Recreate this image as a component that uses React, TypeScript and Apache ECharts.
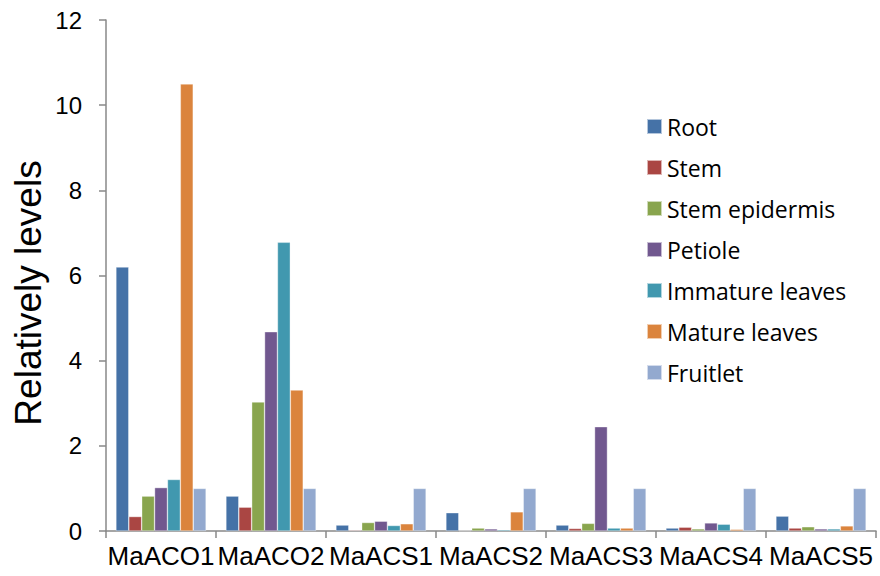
import React, { useEffect, useRef } from "react";
import * as echarts from "echarts";

const categories = ["MaACO1", "MaACO2", "MaACS1", "MaACS2", "MaACS3", "MaACS4", "MaACS5"];
const seriesNames = ["Root", "Stem", "Stem epidermis", "Petiole", "Immature leaves", "Mature leaves", "Fruitlet"];
const root = [6.2, 0.82, 0.14, 0.43, 0.14, 0.07, 0.35];
const stem = [0.34, 0.56, 0.02, 0.01, 0.06, 0.09, 0.07];
const stemEpidermis = [0.82, 3.03, 0.2, 0.07, 0.18, 0.05, 0.1];
const petiole = [1.02, 4.68, 0.23, 0.05, 2.45, 0.19, 0.05];
const immatureLeaves = [1.21, 6.78, 0.13, 0.03, 0.07, 0.16, 0.05];
const matureLeaves = [10.5, 3.31, 0.17, 0.45, 0.07, 0.04, 0.12];
const fruitlet = [1, 1, 1, 1, 1, 1, 1];
const yTicks = [0, 2, 4, 6, 8, 10, 12];

const colors = ["#4572A7", "#AA4643", "#89A54E", "#71588F", "#4198AF", "#DB843D", "#93A9CF"];

export default function App() {
  const ref = useRef<HTMLDivElement>(null);
  useEffect(() => {
    if (!ref.current) return;
    const chart = echarts.init(ref.current, null, { renderer: "svg" });
    const values = [root, stem, stemEpidermis, petiole, immatureLeaves, matureLeaves, fruitlet];
    chart.setOption({
      animation: false,
      color: colors,
      grid: { left: 106, right: 4, top: 20, bottom: 45 },
      legend: {
        orient: "vertical",
        left: 641,
        top: 110,
        itemWidth: 15,
        itemHeight: 15,
        itemGap: 18,
        icon: "rect",
        textStyle: { fontFamily: "Open Sans", fontSize: 23, color: "#000" },
        data: seriesNames,
      },
      xAxis: {
        type: "category",
        data: categories,
        axisLine: { lineStyle: { color: "#888", width: 1.5 } },
        axisTick: { show: true, length: 7, lineStyle: { color: "#888", width: 1.5 } },
        axisLabel: { color: "#000", fontFamily: "Liberation Sans", fontSize: 26, margin: 12, interval: 0 },
      },
      yAxis: {
        type: "value",
        min: yTicks[0],
        max: yTicks[yTicks.length - 1],
        interval: 2,
        splitLine: { show: false },
        axisLine: { show: true, lineStyle: { color: "#888", width: 1.5 } },
        axisTick: { show: true, length: 7, lineStyle: { color: "#888", width: 1.5 } },
        axisLabel: { color: "#000", fontFamily: "Liberation Sans", fontSize: 24, margin: 24 },
      },
      graphic: [
        {
          type: "text",
          x: 28,
          y: 293,
          rotation: Math.PI / 2,
          style: {
            text: "Relatively levels",
            fontFamily: "Liberation Sans",
            fontSize: 37,
            fill: "#000",
            align: "center",
            verticalAlign: "middle",
          },
        },
      ],
      series: seriesNames.map((name, i) => ({
        name,
        type: "bar",
        data: values[i],
        barGap: "0%",
        barCategoryGap: "18%",
        itemStyle: { borderColor: "rgba(255,255,255,0.6)", borderWidth: 0.6 },
      })),
    });
    return () => chart.dispose();
  }, []);
  return <div ref={ref} style={{ width: 880, height: 576, position: "absolute", left: 0, top: 0 }} />;
}
